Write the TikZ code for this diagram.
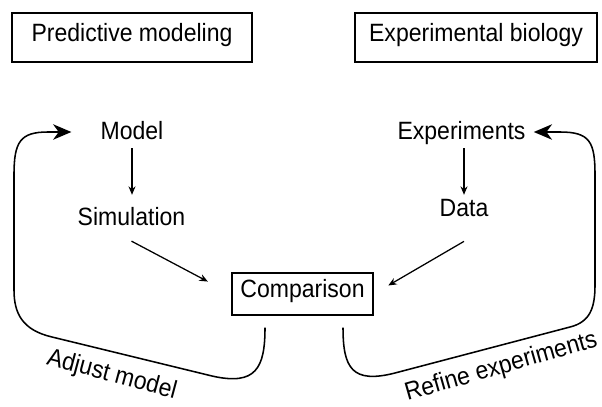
\documentclass[tikz,border=0pt]{standalone}
\usepackage{fontspec}
\setmainfont[FakeStretch=0.92]{Liberation Sans}
\usetikzlibrary{arrows.meta}

\begin{document}
\begin{tikzpicture}[x=0.025cm,y=-0.025cm,
    txt/.style={font=\fontsize{17.8}{21}\selectfont,inner sep=0.1cm,
                text height=0.72em,text depth=0.2em},
    frame/.style={txt,draw,line width=0.9pt},
    feed/.style={-{Stealth[length=6pt,width=5pt]},line width=0.9pt},
    back/.style={-{Stealth[length=13pt,width=11pt,inset=4pt]},line width=1.1pt}]
    \useasboundingbox (0,0) rectangle (602,406);
    %headers
    \node [frame,minimum width=6cm,minimum height=1.225cm] (pm) at (132,37.5) {Predictive modeling};
    \node [frame,minimum width=6.05cm,minimum height=1.225cm] (eb) at (476,37.5) {Experimental biology};
    %model side
    \node [txt] (mdl) at (132,135.5) {Model};
    \node [txt] (sim) at (131.5,222) {Simulation};
    \draw [feed,shorten <=1.4pt,shorten >=11.7pt] (mdl.south) -- (mdl.south |- sim.north);
    %experiment side
    \node [txt] (exp) at (461.5,135.5) {Experiments};
    \node [txt] (dat) at (464,213) {Data};
    \draw [feed,shorten <=1.4pt,shorten >=5.3pt] (dat.north |- exp.south) -- (dat.north);
    %comparison
    \node [frame,minimum width=3.525cm,minimum height=1.05cm] (cmp) at (302.5,294) {Comparison};
    \draw [feed,shorten >=18.9pt] ([yshift=-0.21cm]sim.south) -- (cmp.west);
    \draw [feed,shorten >=12pt] ([yshift=-0.44cm]dat.south) -- (cmp.east);
    %feedback loops
    \draw [back] ([shift={(-37.5,12)}]cmp.south) .. controls (265,368) and (256,386) .. (212,376)
        -- (52,337) .. controls (22,330) and (14,313) .. (14,290)
        -- (14,175) .. controls (14,142) and (20,132) .. (48,132)
        -- ([shift={(-25,-3.5)}]mdl.west);
    \draw [back] ([shift={(40.5,12)}]cmp.south) .. controls (343,368) and (352,384) .. (395,373)
        -- (570,327) .. controls (590,322) and (595,308) .. (595,285)
        -- (595,175) .. controls (595,142) and (590,132) .. (560,132)
        -- ([shift={(4,-3.5)}]exp.east);
    \node [txt,rotate=-15] (adj) at (111,378) {Adjust model};
    \node [txt,rotate=16] (ref) at (502,370) {Refine experiments};
\end{tikzpicture}
\end{document}
